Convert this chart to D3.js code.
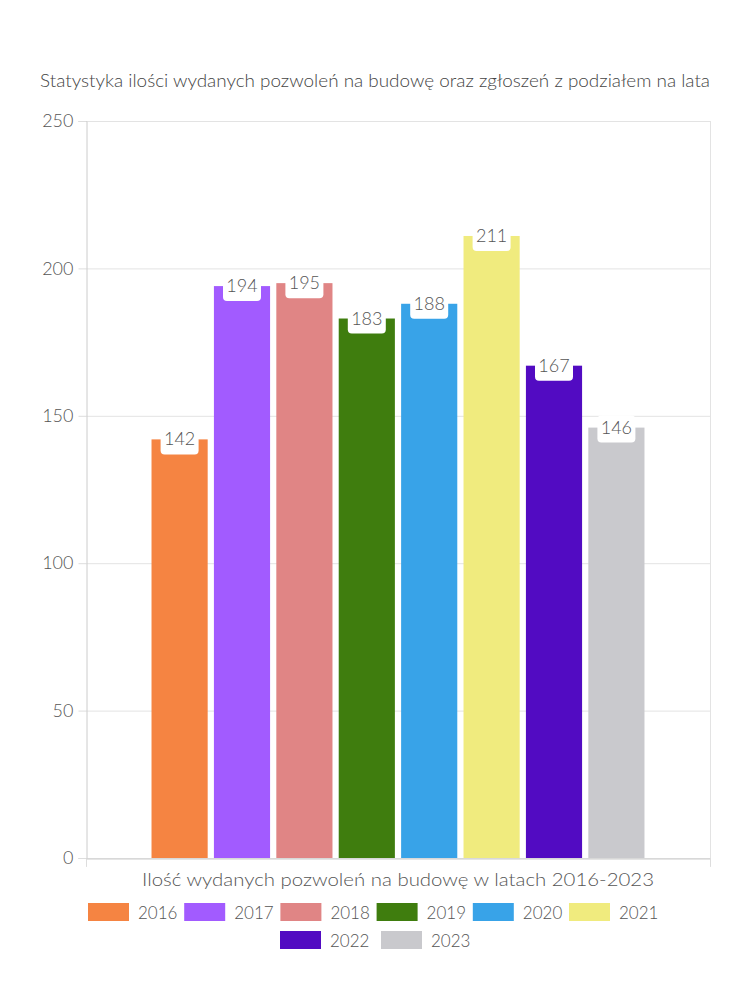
<!DOCTYPE html>
<html>
<head>
<meta charset="utf-8">
<script src="https://cdn.jsdelivr.net/npm/d3@7"></script>
<style>
  html, body { margin: 0; padding: 0; background: #fff; }
  svg text { font-family: Lato, "Noto Sans", sans-serif; font-weight: 300; }
</style>
</head>
<body>
<svg id="chart" width="750" height="1000"></svg>
<script>
const title = "Statystyka ilości wydanych pozwoleń na budowę oraz zgłoszeń z podziałem na lata";
const category = "Ilość wydanych pozwoleń na budowę w latach 2016-2023";
const years = ["2016", "2017", "2018", "2019", "2020", "2021", "2022", "2023"];
const values = [142, 194, 195, 183, 188, 211, 167, 146];
const colors = ["#F58442", "#A25BFF", "#E08585", "#3F7D0E", "#38A3E8", "#F0EB7E", "#520BC2", "#C9C9CD"];
const yTicks = [0, 50, 100, 150, 200, 250];

(function () {
const svg = d3.select("#chart");
const mLeft = 86, mRight = 710, mTop = 121, mBottom = 858;

const y = d3.scaleLinear().domain([0, 250]).range([mBottom, mTop]);
const x0 = d3.scaleBand().domain([category]).range([mLeft, mRight]).paddingInner(0.2).paddingOuter(0.1);
const x1 = d3.scaleBand().domain(years).range([0, x0.bandwidth()]).paddingInner(0.1).paddingOuter(0.05);
const color = d3.scaleOrdinal().domain(years).range(colors);

// title
svg.append("text")
  .attr("x", 40).attr("y", 87)
  .attr("font-size", 17).attr("fill", "#444")
  .attr("textLength", 670).attr("lengthAdjust", "spacingAndGlyphs")
  .text(title);

// gridlines
svg.append("g").selectAll("line").data(yTicks).join("line")
  .attr("x1", mLeft).attr("x2", mRight)
  .attr("y1", d => y(d) + 0.5).attr("y2", d => y(d) + 0.5)
  .attr("stroke", "#e3e3e3");

// right border
svg.append("line").attr("x1", mRight + 0.5).attr("x2", mRight + 0.5)
  .attr("y1", mTop).attr("y2", mBottom + 8).attr("stroke", "#e3e3e3");

// y axis
const yAxis = svg.append("g").attr("transform", `translate(${mLeft + 0.5},0)`)
  .call(d3.axisLeft(y).tickValues(yTicks).tickSize(8).tickPadding(5));
yAxis.select(".domain").attr("stroke", "#ccc");
yAxis.selectAll(".tick line").attr("stroke", "#ddd");
yAxis.selectAll(".tick text").attr("font-size", 18).attr("fill", "#555")
  .attr("font-family", "Lato, sans-serif").attr("font-weight", 300);

// x axis baseline
const xAxis = svg.append("g").attr("transform", `translate(0,${mBottom + 0.5})`)
  .call(d3.axisBottom(d3.scaleLinear().domain([0, 1]).range([mLeft, mRight])).tickValues([0, 1]).tickSize(8).tickFormat(""));
xAxis.select(".domain").attr("stroke", "#ccc");
xAxis.selectAll(".tick line").attr("stroke", "#ddd");

// bars
const g = svg.append("g").attr("transform", `translate(${x0(category)},0)`);
const data = years.map((yr, i) => ({ year: yr, value: values[i] }));
g.selectAll("rect.bar").data(data).join("rect")
  .attr("class", "bar")
  .attr("x", d => x1(d.year))
  .attr("y", d => y(d.value))
  .attr("width", x1.bandwidth())
  .attr("height", d => y(0) - y(d.value))
  .attr("fill", d => color(d.year));

// value badges
const badge = g.selectAll("g.badge").data(data).join("g").attr("class", "badge")
  .attr("transform", d => `translate(${x1(d.year) + x1.bandwidth() / 2},${y(d.value)})`);
badge.append("rect")
  .attr("x", -19).attr("y", -12).attr("width", 38).attr("height", 27)
  .attr("rx", 4).attr("fill", "#fff");
badge.append("text")
  .attr("text-anchor", "middle").attr("y", 6)
  .attr("font-size", 18).attr("fill", "#555")
  .text(d => d.value);

// x axis title
svg.append("text")
  .attr("x", x0(category) + x0.bandwidth() / 2).attr("y", 886)
  .attr("text-anchor", "middle")
  .attr("font-size", 18).attr("fill", "#555")
  .attr("textLength", 512).attr("lengthAdjust", "spacingAndGlyphs")
  .text(category);

// legend
const rows = [years.slice(0, 6), years.slice(6)];
const rowStart = [88, 280];
const rowY = [903, 931];
const itemStep = [96.2, 101];
rows.forEach((row, ri) => {
  const lg = svg.append("g");
  const it = lg.selectAll("g").data(row).join("g")
    .attr("transform", (d, i) => `translate(${rowStart[ri] + i * itemStep[ri]},${rowY[ri]})`);
  it.append("rect").attr("width", 41).attr("height", 18).attr("fill", d => color(d));
  it.append("text").attr("x", 50).attr("y", 15.5)
    .attr("font-size", 17).attr("fill", "#555")
    .text(d => d);
});
})();
</script>
</body>
</html>
